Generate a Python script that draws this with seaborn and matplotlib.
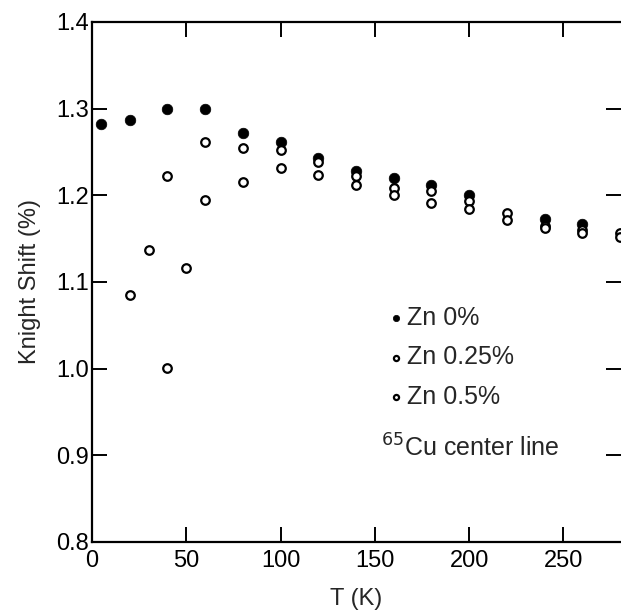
import numpy as np
import pandas as pd
import matplotlib
matplotlib.use("Agg")
import matplotlib.pyplot as plt
import seaborn as sns

# ---- data ----
T_zn0 = [5, 20, 40, 60, 80, 100, 120, 140, 160, 180, 200, 240, 260]
K_zn0 = [1.282, 1.287, 1.300, 1.300, 1.272, 1.261, 1.243, 1.228, 1.220, 1.212, 1.200, 1.173, 1.167]

T_zn025 = [40, 60, 80, 100, 120, 140, 160, 180, 200, 220, 240, 260, 280]
K_zn025 = [1.222, 1.261, 1.255, 1.252, 1.238, 1.222, 1.208, 1.205, 1.194, 1.180, 1.165, 1.160, 1.157]

T_zn05 = [20, 30, 40, 50, 60, 80, 100, 120, 140, 160, 180, 200, 220, 240, 260, 280]
K_zn05 = [1.085, 1.137, 1.001, 1.116, 1.195, 1.215, 1.232, 1.224, 1.212, 1.200, 1.191, 1.184, 1.172, 1.162, 1.157, 1.152]

labels = ["Zn 0%", "Zn 0.25%", "Zn 0.5%"]
x_ticks = [0, 50, 100, 150, 200, 250]
y_ticks = [0.8, 0.9, 1.0, 1.1, 1.2, 1.3, 1.4]

sns.set_style("ticks")
plt.rcParams['font.family'] = ['Liberation Sans', 'DejaVu Sans']

W, H = 621, 612
fig = plt.figure(figsize=(W / 100, H / 100), dpi=100)
ax = fig.add_axes([92 / W, 1 - 542 / H, 1 - 92 / W, (542 - 22) / H])

df0 = pd.DataFrame({"T": T_zn0, "K": K_zn0})
df1 = pd.DataFrame({"T": T_zn025, "K": K_zn025})
df2 = pd.DataFrame({"T": T_zn05, "K": K_zn05})

sns.scatterplot(data=df1, x="T", y="K", ax=ax, marker="o", s=38,
                facecolor="white", edgecolor="black", linewidth=1.6,
                label=labels[1], zorder=3)
sns.scatterplot(data=df2, x="T", y="K", ax=ax, marker="o", s=38,
                facecolor="white", edgecolor="black", linewidth=1.6,
                label=labels[2], zorder=3)
sns.scatterplot(data=df0, x="T", y="K", ax=ax, marker="o", s=58,
                color="black", edgecolor="black", linewidth=0.5,
                label=labels[0], zorder=2)

ax.set_xlim(0, 280.5)
ax.set_ylim(0.8, 1.4)
ax.set_xticks(x_ticks)
ax.set_yticks(y_ticks)
ax.set_xticklabels([str(v) for v in x_ticks])
ax.set_yticklabels([f"{v:.1f}" for v in y_ticks])

for sp in ["left", "top", "bottom"]:
    ax.spines[sp].set_linewidth(1.6)
    ax.spines[sp].set_color("black")
ax.spines["right"].set_visible(False)

ax.tick_params(axis="both", direction="in", length=11, width=1.4,
               labelsize=17, colors="black", pad=2,
               top=True, right=True)
ax.tick_params(axis="x", pad=6)

ax.set_xlabel("T (K)", fontsize=17, labelpad=11)
ax.set_ylabel("Knight Shift (%)", fontsize=17, labelpad=11)

h, l = ax.get_legend_handles_labels()
order = [l.index(s) for s in labels]
leg = ax.legend([h[i] for i in order], [l[i] for i in order],
                loc="upper left", bbox_to_anchor=(391 / W, 1 - 306 / H),
                bbox_transform=fig.transFigure, frameon=False,
                fontsize=18, markerscale=0.6, handlelength=0.4,
                handletextpad=0.25, labelspacing=0.62, borderaxespad=0,
                borderpad=0)

fig.text(381 / W, 1 - 448 / H, r"$^{65}$Cu center line", fontsize=18,
         va="center", ha="left")

fig.savefig("out.png", dpi=100)
